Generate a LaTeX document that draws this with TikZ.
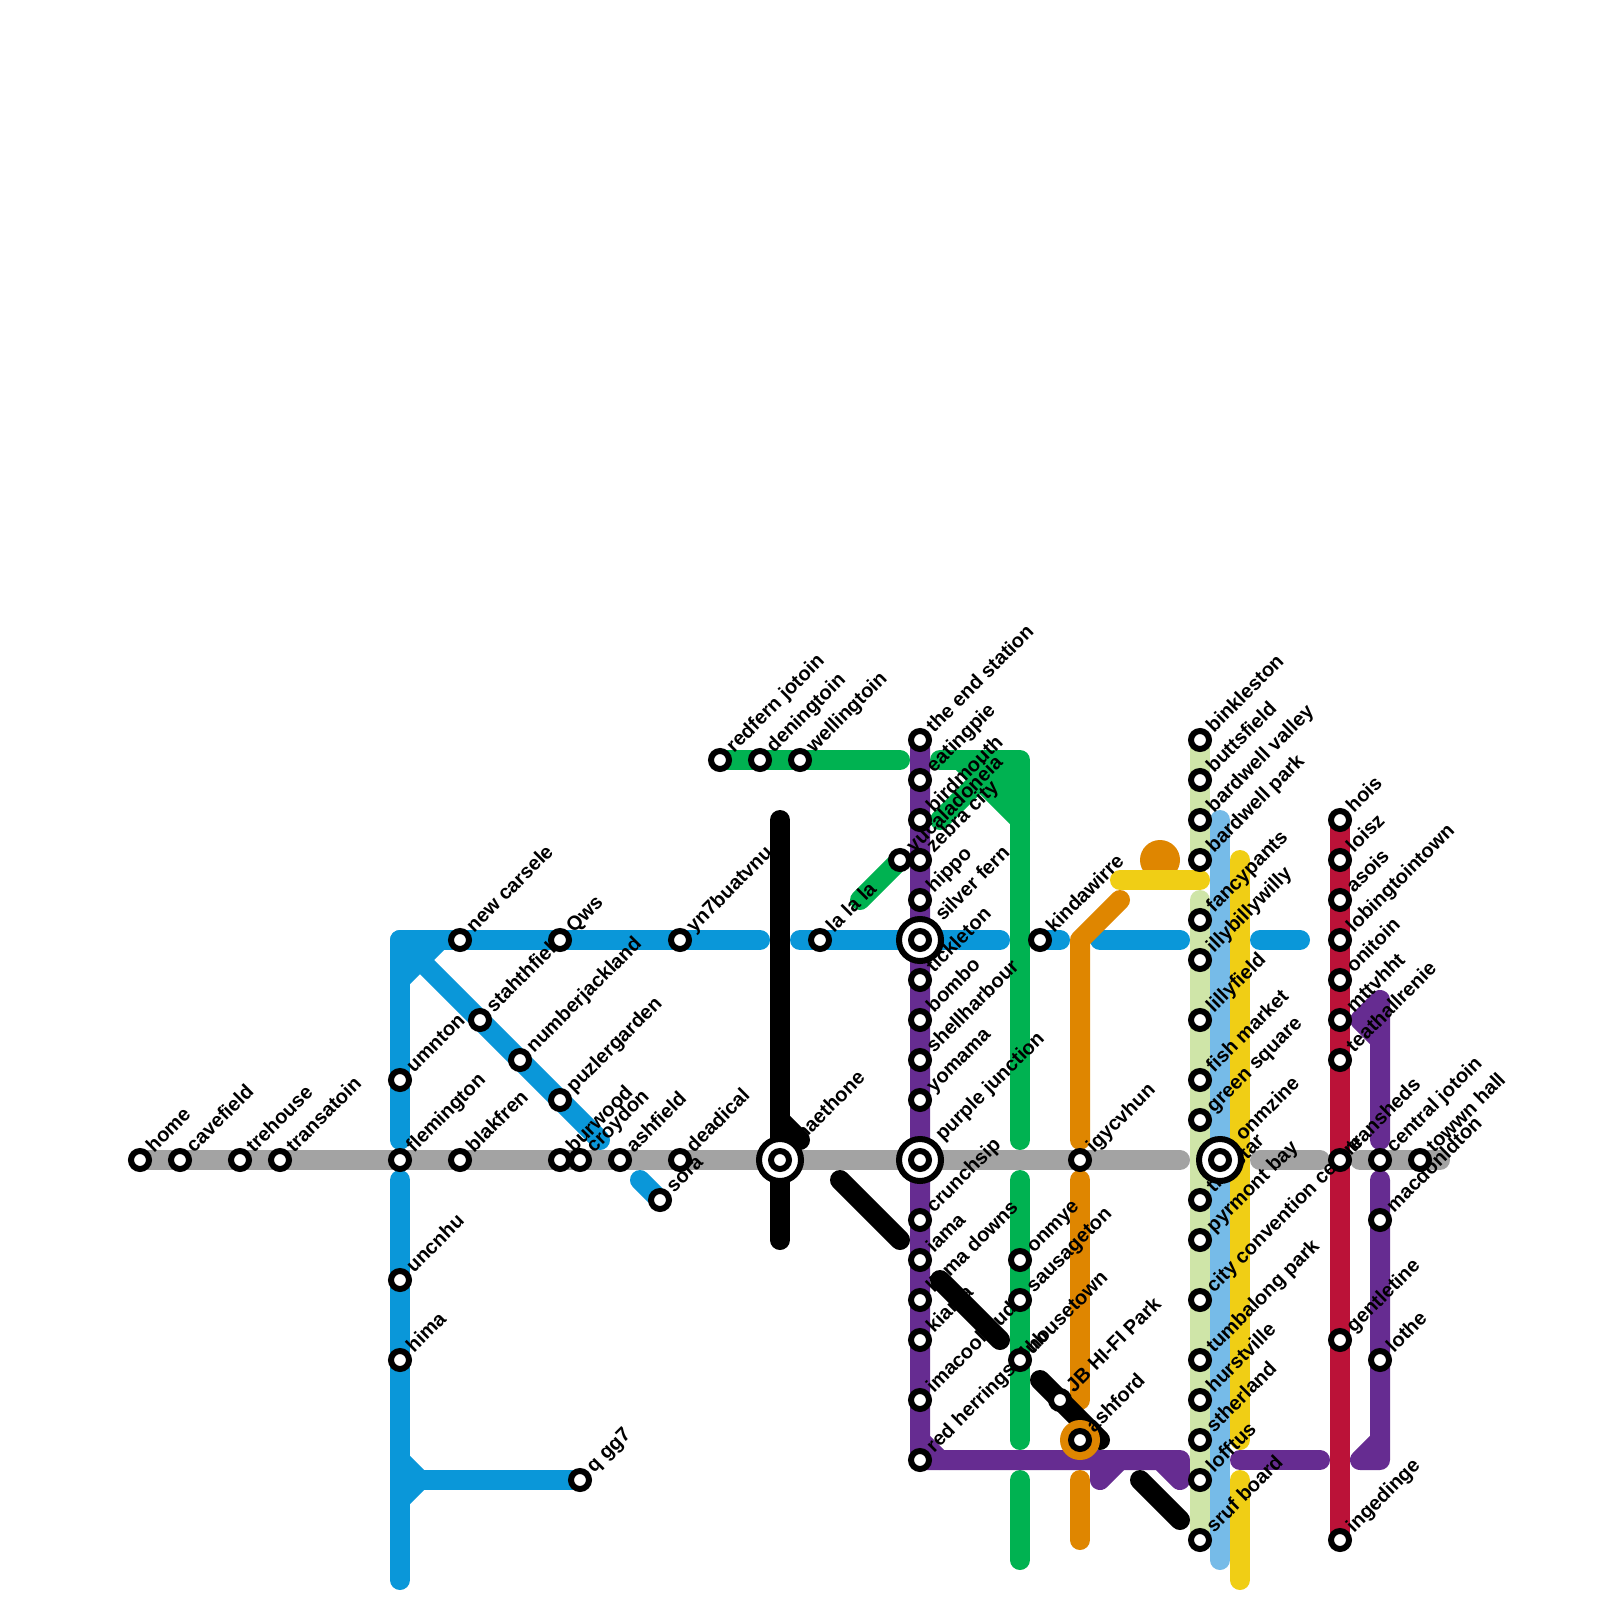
\documentclass[tikz,border=0pt]{standalone}
\usepackage{fontspec}
\setmainfont{Liberation Sans}
\usepackage{xcolor}
\usetikzlibrary{positioning}
\definecolor{lineblue}{RGB}{10, 151, 217}
\definecolor{linegreen}{RGB}{0, 178, 81}
\definecolor{linepurple}{RGB}{102, 44, 145}
\definecolor{lineorange}{RGB}{223, 134, 0}
\definecolor{lineyellow}{RGB}{240, 206, 21}
\definecolor{linelime}{RGB}{207, 229, 168}
\definecolor{linesky}{RGB}{118, 187, 232}
\definecolor{linered}{RGB}{187, 18, 56}
\definecolor{linegray}{RGB}{163, 163, 163}
\pgfdeclarelayer{lines}
\pgfdeclarelayer{labels}
\pgfsetlayers{lines,labels,main}

\begin{document}
\begin{tikzpicture}[
    x=1pt, y=-1pt,
    metro/.style={line width=20pt, line cap=round, line join=round},
    station/.style={
        circle, draw=black, fill=white, line width=6pt, minimum size=18pt, inner sep=0pt
    },
    hub_ring/.style={
        circle, draw=black, fill=white, line width=6pt, minimum size=42pt, inner sep=0pt
    },
    name_text/.style={
        rotate=45, anchor=base west, inner sep=0pt,
        font=\fontsize{20}{24}\selectfont\bfseries
    },
    stn_label/.style={xshift=14pt, yshift=6.5pt, name_text},
    hub_label/.style={xshift=23pt, yshift=18pt, name_text},
]

    \useasboundingbox (0,0) rectangle (1600,1600);

    % Ordinary stations, each with its slanted name
    \foreach \n/\x/\y/\t in {
        home/140/1160/home, cavefield/180/1160/cavefield, trehouse/240/1160/trehouse,
        transatoin/280/1160/transatoin, flemington/400/1160/flemington, blakfren/460/1160/blakfren,
        burwood/560/1160/burwood, croydon/580/1160/croydon, ashfield/620/1160/ashfield,
        deadical/680/1160/deadical, sora/660/1200/sora, umnton/400/1080/umnton,
        uncnhu/400/1280/uncnhu, hima/400/1360/hima, q_gg7/580/1480/q gg7,
        new_carsele/460/940/new carsele, qws/560/940/Qws, yn7buatvnu/680/940/yn7buatvnu,
        stahthfield/480/1020/stahthfield, numberjackland/520/1060/numberjackland,
        puzlergarden/560/1100/puzlergarden, la_la_la/820/940/la la la,
        redfern_jotoin/720/760/redfern jotoin, deningtoin/760/760/deningtoin,
        wellingtoin/800/760/wellingtoin, end_station/920/740/the end station,
        eatingpie/920/780/eatingpie, birdmouth/920/820/birdmouth, zebra_city/920/860/zebra city,
        yucaladoneia/900/860/yucaladoneia, hippo/920/900/hippo, tickleton/920/980/tickleton,
        bombo/920/1020/bombo, shellharbour/920/1060/shellharbour, yomama/920/1100/yomama,
        crunchsip/920/1220/crunchsip, iama/920/1260/iama, llama_downs/920/1300/llama downs,
        kiama/920/1340/kiama, imacool/920/1400/imacool dud, red_herrings/920/1460/red herrings club,
        kindawirre/1040/940/kindawirre, onmye/1020/1260/onmye, sausageton/1020/1300/sausageton,
        housetown/1020/1360/housetown, jb_hifi/1060/1400/JB HI-FI Park, ashford/1080/1440/ashford,
        igycvhun/1080/1160/igycvhun, binkleston/1200/740/binkleston, buttsfield/1200/780/buttsfield,
        bardwell_valley/1200/820/bardwell valley, bardwell_park/1200/860/bardwell park,
        fancypants/1200/920/fancypants, illybillywilly/1200/960/illybillywilly,
        lillyfield/1200/1020/lillyfield, fish_market/1200/1080/fish market,
        green_square/1200/1120/green square, the_star/1200/1200/the star,
        pyrmont_bay/1200/1240/pyrmont bay, convention/1200/1300/city convention centre,
        tumbalong/1200/1360/tumbalong park, hurstville/1200/1400/hurstville,
        stherland/1200/1440/stherland, lofftus/1200/1480/lofftus, sruf_board/1200/1540/sruf board,
        hois/1340/820/hois, loisz/1340/860/loisz, asois/1340/900/asois,
        lobingtointown/1340/940/lobingtointown, onitoin/1340/980/onitoin, mttvhht/1340/1020/mttvhht,
        teathallrenie/1340/1060/teathallrenie, transheds/1340/1160/transheds,
        gentletine/1340/1340/gentletine, ingedinge/1340/1540/ingedinge,
        central_jotoin/1380/1160/central jotoin, towwn_hall/1420/1160/towwn hall,
        macdonldton/1380/1220/macdonldton, lothe/1380/1360/lothe} {
        \node[station] (\n) at (\x,\y) {};
        \begin{pgfonlayer}{labels}
            \node[stn_label] (\n_name) at (\x,\y) {\t};
        \end{pgfonlayer}
    }

    % Interchange stations
    \foreach \n/\x/\y/\t in {
        haethone/780/1160/haethone, silver_fern/920/940/silver fern,
        purple_junction/920/1160/purple junction, onmzine/1220/1160/onmzine} {
        \node[hub_ring] (\n_ring) at (\x,\y) {};
        \node[station] (\n) at (\x,\y) {};
        \begin{pgfonlayer}{labels}
            \node[hub_label] (\n_name) at (\x,\y) {\t};
        \end{pgfonlayer}
    }

    % Free ends of the line pieces
    \foreach \n/\x/\y in {
        b1/400/1140, b2/400/940, b3/760/940, b4/400/980, b5/440/940, b6/600/1140, b7/400/1180,
        b8/400/1580, b9/400/1460, b10/420/1480, b11/400/1500, b12/640/1180, b13/800/940,
        b14/1000/940, b15/1060/940, b16/1100/940, b17/1180/940, b18/1260/940, b19/1300/940,
        a1/1180/1160, a2/1260/1160, a3/1320/1160, a4/1360/1160, a5/1440/1160,
        g1/900/760, g2/940/760, g3/1020/760, g4/1020/1140, g5/960/760, g6/1020/820, g7/940/820,
        g8/1000/760, g9/860/900, g10/1020/1180, g11/1020/1440, g12/1020/1480, g13/1020/1560,
        p1/1180/1460, p2/1180/1480, p3/1160/1460, p4/920/1440, p5/940/1460, p6/1100/1460,
        p7/1100/1480, p8/1120/1460, p9/1240/1460, p10/1320/1460, p11/1380/1140, p12/1380/1000,
        p13/1360/1020, p14/1380/1040, p15/1380/1180, p16/1380/1460, p17/1360/1460, p18/1380/1440,
        o1/1120/900, o2/1080/940, o3/1080/1140, o4/1080/1180, o5/1080/1400, o6/1080/1480, o7/1080/1540,
        y1/1120/880, y2/1200/880, y3/1240/860, y4/1240/1440, y5/1240/1480, y6/1240/1580,
        l1/1200/860, l2/1200/900, s1/1220/820, s2/1220/1560,
        k1/780/820, k2/780/1240, k3/780/1120, k4/800/1140, k5/840/1180, k6/900/1240, k7/940/1280,
        k8/1000/1340, k9/1040/1380, k10/1100/1440, k11/1140/1480, k12/1180/1520} {
        \coordinate (\n) at (\x,\y);
    }

    \begin{pgfonlayer}{lines}
        % Gray line
        \draw[metro, linegray] (home.center) -- (a1);
        \draw[metro, linegray] (a2) -- (a3);
        \draw[metro, linegray] (a4) -- (a5);

        % Blue line
        \draw[metro, lineblue] (b1) -- (b2) -- (b3);
        \draw[metro, lineblue] (b4) -- (b5);
        \draw[metro, lineblue] (b2) -- (b6);
        \draw[metro, lineblue] (b7) -- (b8);
        \draw[metro, lineblue] (b9) -- (b10) -- (b11);
        \draw[metro, lineblue] (b10) -- (q_gg7.center);
        \draw[metro, lineblue] (b12) -- (sora.center);
        \draw[metro, lineblue] (b13) -- (b14);
        \draw[metro, lineblue] (kindawirre.center) -- (b15);
        \draw[metro, lineblue] (b16) -- (b17);
        \draw[metro, lineblue] (b18) -- (b19);

        % Green line
        \draw[metro, linegreen] (redfern_jotoin.center) -- (g1);
        \draw[metro, linegreen] (g2) -- (g3) -- (g4);
        \draw[metro, linegreen] (g5) -- (g6);
        \draw[metro, linegreen] (g7) -- (g8);
        \fill[linegreen] (g5) -- (g3) -- (g6) -- cycle;
        \draw[metro, linegreen] (g9) -- (yucaladoneia.center);
        \draw[metro, linegreen] (g10) -- (g11);
        \draw[metro, linegreen] (g12) -- (g13);

        % Purple line
        \draw[metro, linepurple] (end_station.center) -- (red_herrings.center) -- (p1) -- (p2) -- (p3);
        \draw[metro, linepurple] (p4) -- (p5);
        \draw[metro, linepurple] (p6) -- (p7) -- (p8);
        \draw[metro, linepurple] (p9) -- (p10);
        \draw[metro, linepurple] (p11) -- (p12) -- (p13) -- (p14);
        \draw[metro, linepurple] (p15) -- (p16) -- (p17) -- (p18);

        % Orange line, with its dot under the yellow bar
        \node[circle, fill=lineorange, minimum size=40pt, inner sep=0pt] (orange_dot) at (1160,860) {};
        \draw[metro, lineorange] (o1) -- (o2) -- (o3);
        \draw[metro, lineorange] (o4) -- (o5);
        \draw[metro, lineorange] (o6) -- (o7);

        % Pale green, sky blue and yellow run side by side
        \draw[metro, linelime] (binkleston.center) -- (l1);
        \draw[metro, linelime] (l2) -- (sruf_board.center);
        \draw[metro, linesky] (s1) -- (s2);
        \draw[metro, lineyellow] (y1) -- (y2);
        \draw[metro, lineyellow] (y3) -- (y4);
        \draw[metro, lineyellow] (y5) -- (y6);

        % Red line
        \draw[metro, linered] (hois.center) -- (ingedinge.center);

        % Black line
        \draw[metro, black] (k1) -- (k2);
        \draw[metro, black] (k3) -- (k4);
        \draw[metro, black] (k5) -- (k6);
        \draw[metro, black] (k7) -- (k8);
        \draw[metro, black] (k9) -- (k10);
        \draw[metro, black] (k11) -- (k12);

        % Ring round ashford
        \node[circle, fill=lineorange, minimum size=40pt, inner sep=0pt] (ashford_ring) at (ashford.center) {};
    \end{pgfonlayer}

\end{tikzpicture}
\end{document}
